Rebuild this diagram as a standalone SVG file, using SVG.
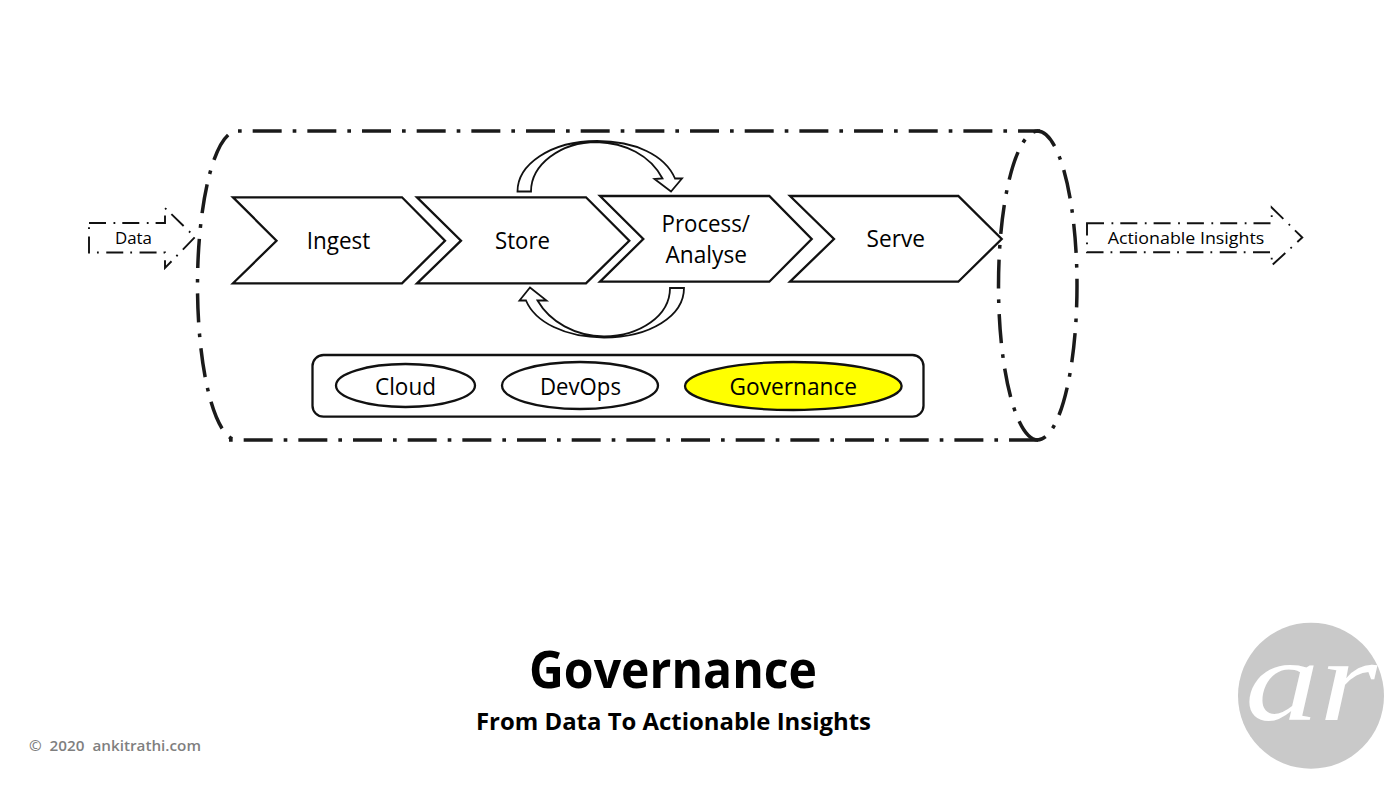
<svg xmlns="http://www.w3.org/2000/svg" width="1400" height="788" viewBox="0 0 1400 788">
<style>
text{font-family:"Open Sans","Noto Sans","Liberation Sans",sans-serif;fill:#000;text-anchor:start;white-space:pre}
.c{fill:none;stroke:#1a1a1a;stroke-width:3.5;stroke-dasharray:29 11 3.67 11}
.s{fill:#fff;stroke:#111;stroke-width:2.3}
.a{fill:none;stroke:#111;stroke-width:1.9;stroke-dasharray:17 7.5 1.8 7}
.f{fill:#fff;stroke:#111;stroke-width:1.8}
.l{font-size:23px}
</style>
<rect width="1400" height="788" fill="#fff"/>
<g id="cylinder">
<path class="c" stroke-dashoffset="40" d="M238,131H1040"/>
<path class="c" stroke-dashoffset="40" d="M229,440H1040"/>
<path class="c" stroke-dashoffset="44.67" d="M237,131A39.5,154.5 0 0 0 237,440"/>
<path class="c" stroke-dashoffset="24" d="M1038,131A39.5,154.5 0 0 0 1038,440"/>
<path class="c" stroke-dashoffset="5" d="M1037.5,131A39.5,154.5 0 0 1 1037.5,440"/>
</g>
<g id="connectors">
<path id="loop-top" class="f" d="M517.5,191.5C517.5,165 550,141 597,141C635,141 665,155 675,178.5L682,178.5L671,191.5L654.5,179L662.5,178.5C650,155 625,143 597,142C560,142 531,165 531,191.5Z"/>
<path id="loop-bottom" class="f" d="M684,288C684,316 650,337.5 604,337.5C565,337.5 535,322 526,300.5L519.5,300.5L530,287.5L546.5,300.5L537.5,300.5C550,322 575,336 604,336.5C640,336 670,316 670,288Z"/>
</g>
<g id="data-arrow">
<path class="a" d="M89,223H165V208L195,237L165,268V252.5H89Z"/>
<text x="115" y="244" font-size="17" textLength="37" lengthAdjust="spacingAndGlyphs">Data</text>
</g>
<g id="ingest">
<path class="s" d="M233,197.3H402L445,240.7L402,283.3H233L276.5,240.7Z"/>
<text class="l" x="306.7" y="249" textLength="63.5" lengthAdjust="spacingAndGlyphs">Ingest</text>
</g>
<g id="store">
<path class="s" d="M417,197.3H586L629.3,240.7L586,283.3H417L461,240.7Z"/>
<text class="l" x="495" y="249" textLength="55" lengthAdjust="spacingAndGlyphs">Store</text>
</g>
<g id="process">
<path class="s" d="M600,196H769.3L811.7,239L769.3,281.7H600L643.3,239Z"/>
<text class="l" x="661.5" y="231.7" textLength="88.5" lengthAdjust="spacingAndGlyphs">Process/</text>
<text class="l" x="665.5" y="263" textLength="81.5" lengthAdjust="spacingAndGlyphs">Analyse</text>
</g>
<g id="serve">
<path class="s" d="M790,196H958.3L1001.7,239L958.3,281.7H790L834,239Z"/>
<text class="l" x="866.5" y="246.7" textLength="58.5" lengthAdjust="spacingAndGlyphs">Serve</text>
</g>
<g id="foundation">
<rect class="s" x="312.5" y="355" width="611" height="61.7" rx="11"/>
</g>
<g id="cloud">
<ellipse class="s" cx="405.5" cy="385.5" rx="69.5" ry="21.5"/>
<text class="l" x="375" y="395" textLength="61" lengthAdjust="spacingAndGlyphs">Cloud</text>
</g>
<g id="devops">
<ellipse class="s" cx="580" cy="385.5" rx="78" ry="23.5"/>
<text class="l" x="540" y="395" textLength="81" lengthAdjust="spacingAndGlyphs">DevOps</text>
</g>
<g id="governance">
<ellipse class="s" cx="793.3" cy="386" rx="108.3" ry="24" style="fill:#ffff00"/>
<text class="l" x="729.5" y="395" textLength="127.5" lengthAdjust="spacingAndGlyphs">Governance</text>
</g>
<g id="insights-arrow">
<path class="a" d="M1087,223.3H1271.7V207.5L1302.3,237.5L1271.7,265.5V252.3H1087Z"/>
<text x="1107.7" y="244" font-size="17" textLength="156.6" lengthAdjust="spacingAndGlyphs">Actionable Insights</text>
</g>
<g id="title">
<text x="529" y="688" font-size="52" font-weight="700" textLength="288" lengthAdjust="spacingAndGlyphs">Governance</text>
<text x="476" y="730" font-size="24" font-weight="700" textLength="395" lengthAdjust="spacingAndGlyphs">From Data To Actionable Insights</text>
<text x="29" y="751" font-size="14" font-weight="600" style="fill:#7f7f7f" textLength="172" lengthAdjust="spacingAndGlyphs">©  2020  ankitrathi.com</text>
</g>
<g id="logo">
<circle cx="1311" cy="695.7" r="73" fill="#c9c9c9"/>
<text x="1245" y="720" font-size="116" font-style="italic" style="fill:#fff;font-family:'Liberation Serif',serif" textLength="132" lengthAdjust="spacingAndGlyphs">ar</text>
</g>
</svg>
